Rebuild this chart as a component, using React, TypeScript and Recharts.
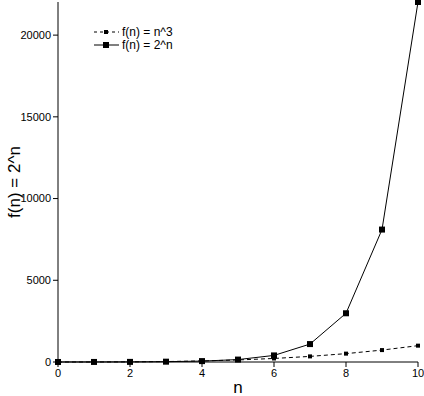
import { LineChart, Line, XAxis, YAxis } from 'recharts';

const nValues = [0, 1, 2, 3, 4, 5, 6, 7, 8, 9, 10];
const cubeValues = [0, 1, 8, 27, 64, 125, 216, 343, 512, 729, 1000];
const powValues = [1, 3, 7, 20, 55, 148, 403, 1097, 2981, 8103, 22026];
const xTicks = [0, 2, 4, 6, 8, 10];
const yTicks = [0, 5000, 10000, 15000, 20000];

const data = nValues.map((n, i) => ({ n, cube: cubeValues[i], pow: powValues[i] }));

const FONT = '"Liberation Sans", Arial, sans-serif';

const SquareDot = (size: number) => (props: any) => {
  const { cx, cy, index } = props;
  if (cx == null || cy == null) return <g key={index} />;
  return <rect key={index} x={cx - size / 2} y={cy - size / 2} width={size} height={size} fill="#000" />;
};

// legend drawn as an overlay so it doesn't push the plot down
const LegendBox = () => (
  <svg width={130} height={34} style={{ position: 'absolute', left: 92, top: 24 }}>
    <g fontFamily={FONT} fontSize={12} fill="#000">
      <line x1={2} y1={8} x2={27} y2={8} stroke="#000" strokeDasharray="3 3" />
      <rect x={12} y={6} width={4} height={4} fill="#000" />
      <text x={30} y={12}>f(n) = n^3</text>
      <line x1={2} y1={21} x2={27} y2={21} stroke="#000" />
      <rect x={11} y={18} width={6} height={6} fill="#000" />
      <text x={30} y={25}>f(n) = 2^n</text>
    </g>
  </svg>
);

export default function App() {
  return (
    <div style={{ position: 'absolute', left: 0, top: 0, background: '#fff' }}>
      <LineChart width={424} height={396} data={data} margin={{ top: 2, right: 6, bottom: 0, left: 0 }}>
        <XAxis
          dataKey="n"
          type="number"
          domain={[0, 10]}
          ticks={xTicks}
          height={34}
          stroke="#000"
          tickSize={5}
          tick={{ fill: '#000', fontSize: 11, fontFamily: FONT }}
          label={{ value: 'n', position: 'insideBottom', offset: 3, fill: '#000', fontSize: 17, fontFamily: FONT }}
        />
        <YAxis
          type="number"
          domain={[0, 'dataMax']}
          ticks={yTicks}
          width={58}
          stroke="#000"
          tickSize={5}
          tick={{ fill: '#000', fontSize: 11, fontFamily: FONT }}
          label={{ value: 'f(n) = 2^n', angle: -90, position: 'insideLeft', offset: 14, fill: '#000', fontSize: 17, fontFamily: FONT, style: { textAnchor: 'middle' } }}
        />
        <Line
          dataKey="cube"
          type="linear"
          stroke="#000"
          strokeWidth={1}
          strokeDasharray="4 3"
          dot={SquareDot(4)}
          isAnimationActive={false}
        />
        <Line
          dataKey="pow"
          type="linear"
          stroke="#000"
          strokeWidth={1}
          dot={SquareDot(6)}
          isAnimationActive={false}
        />
      </LineChart>
      <LegendBox />
    </div>
  );
}
